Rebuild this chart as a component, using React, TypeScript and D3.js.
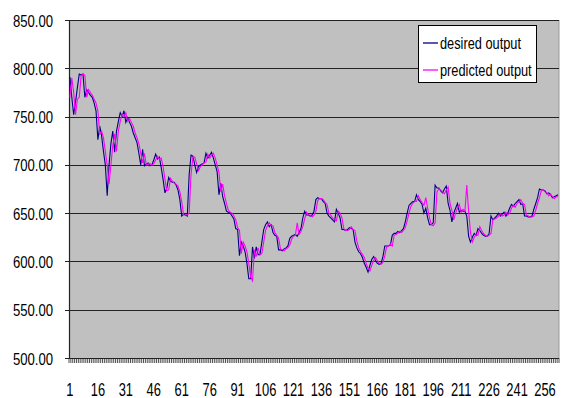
import React from "react";
import * as d3 from "d3";

const desired: number[] = [
  791,770,752,765,780,794,793,794,770,778,
  775,772,770,764,756,726,740,730,714,700,
  668,700,722,735,713,735,745,754,750,756,
  744,749,744,740,733,728,723,712,700,716,
  699,701,702,699,700,705,711,706,708,697,
  685,671,676,687,683,682,682,679,674,664,
  647,649,648,647,690,710,709,700,692,698,
  700,701,702,712,707,710,713,707,700,693,
  669,681,667,660,652,
  651,650,647,644,634,633,606,620,616,610,
  598,582,582,615,603,615,607,607,620,633,
  638,641,636,638,630,627,626,612,612,611,
  613,614,616,624,626,627,628,626,630,634,
  645,652,648,648,647,648,652,664,666,665,
  665,662,660,650,647,645,643,641,654,650,
  645,633,633,632,633,635,634,633,620,614,
  610,608,604,598,594,589,596,602,605,601,
  598,597,598,605,616,616,
  616,
  617,627,629,629,631,630,632,634,641,650,
  658,660,662,662,669,664,662,659,650,655,
  645,638,638,640,679,676,676,673,671,675,
  678,660,653,641,650,655,660,651,653,652,
  652,647,626,620,625,629,627,634,632,629,
  627,626,626,629,647,643,645,647,650,647,
  649,651,647,650,655,659,657,660,662,664,
  659,660,647,647,646,646,647,654,660,666,
  675,674,674,673,670,671,
  669,666,667,668,669,
];

const predicted: number[] = [
  770,790,775,752,768,770,792,794,793,770,
  778,775,772,768,764,756,732,735,728,714,
  700,680,700,720,732,714,735,745,752,750,
  754,745,748,744,740,733,728,722,712,702,
  712,700,701,701,700,701,705,709,706,707,
  698,685,673,674,686,683,681,680,678,672,
  662,648,648,648,650,690,708,708,701,694,
  698,700,702,703,711,707,710,712,707,700,
  692,672,680,668,660,
  653,651,650,647,643,635,632,608,620,616,
  610,598,584,580,612,605,614,607,608,620,
  632,637,640,637,637,630,627,624,613,612,
  611,613,614,617,623,626,627,640,628,631,
  636,644,651,648,648,646,648,652,663,665,
  665,664,661,659,650,648,645,643,642,652,
  650,645,634,632,632,633,636,633,632,621,
  614,610,607,604,598,593,590,596,601,604,
  601,598,597,599,606,615,
  616,
  618,616,627,628,629,631,630,632,635,642,
  650,657,660,662,662,668,664,661,658,666,
  655,645,638,637,640,672,675,674,672,670,
  674,677,660,653,643,650,655,659,651,654,
  652,679,652,630,620,625,628,627,636,632,
  629,627,626,627,629,643,644,645,647,649,
  647,648,651,648,650,655,658,656,660,662,
  664,660,659,648,647,646,646,647,653,660,
  666,673,674,672,671,668,
  670,667,665,667,667,
];

const yTicks: number[] = [500, 550, 600, 650, 700, 750, 800, 850];
const seriesNames: string[] = ["desired output", "predicted output"];
const seriesColors: string[] = ["#000080", "#ff00ff"];

export default function App() {
  const W = 565, H = 398;
  const left = 69, right = 559, top = 20, bottom = 358;
  const n = desired.length;
  const cats = d3.range(1, n + 1);
  const x = d3.scaleBand<number>().domain(cats).range([left, right]).padding(0);
  const y = d3.scaleLinear().domain([500, 850]).range([bottom, top]);
  const cx = (i: number) => (x(i + 1) as number) + x.bandwidth() / 2;
  const line = d3.line<number>().x((_, i) => cx(i)).y((v) => y(v));
  const labels = cats.filter((c) => (c - 1) % 15 === 0);

  return (
    <svg width={W} height={H} style={{ position: "absolute", left: 0, top: 0, background: "#fff" }}
      fontFamily="Liberation Sans, Arial, sans-serif">
      <rect x={left} y={top} width={right - left} height={bottom - top} fill="#c0c0c0" />
      <line x1={right} x2={right} y1={top} y2={bottom} stroke="#9a9a9a" strokeWidth={1} />
      {yTicks.map((t) => (
        <g key={t}>
          <line x1={left - 4} x2={right} y1={Math.round(y(t)) + 0.5} y2={Math.round(y(t)) + 0.5}
            stroke="#222" strokeWidth={1} />
          <text transform={`translate(53,${y(t) + 6.5}) scale(0.82,1)`} textAnchor="end" fontSize={16}
            fill="#000">{t.toFixed(2)}</text>
        </g>
      ))}
      <line x1={left + 0.5} x2={left + 0.5} y1={top} y2={bottom} stroke="#222" strokeWidth={1.2} />
      {cats.concat([n + 1]).map((c) => {
        const xx = c <= n ? (x(c) as number) : right;
        return <line key={"t" + c} x1={xx} x2={xx} y1={bottom} y2={bottom + 5} stroke="#222" strokeWidth={0.8} />;
      })}
      <line x1={left} x2={right} y1={bottom + 0.5} y2={bottom + 0.5} stroke="#222" strokeWidth={1.2} />
      {labels.map((c) => (
        <text key={"l" + c} transform={`translate(${cx(c - 1)},395.5) scale(0.68,1)`} textAnchor="middle"
          fontSize={19} fill="#000">{c}</text>
      ))}
      <path d={line(desired) || ""} fill="none" stroke={seriesColors[0]} strokeWidth={1.1} />
      <path d={line(predicted) || ""} fill="none" stroke={seriesColors[1]} strokeWidth={1.1} />
      <rect x={418.5} y={25.5} width={118} height={57} fill="#fff" stroke="#000" strokeWidth={1} />
      {seriesNames.map((s, i) => (
        <g key={s}>
          <line x1={423} x2={438} y1={43 + i * 27} y2={43 + i * 27} stroke={seriesColors[i]} strokeWidth={1.3} />
          <text transform={`translate(440,${48.5 + i * 27}) scale(0.8,1)`} fontSize={16}
            fill="#000">{s}</text>
        </g>
      ))}
    </svg>
  );
}
